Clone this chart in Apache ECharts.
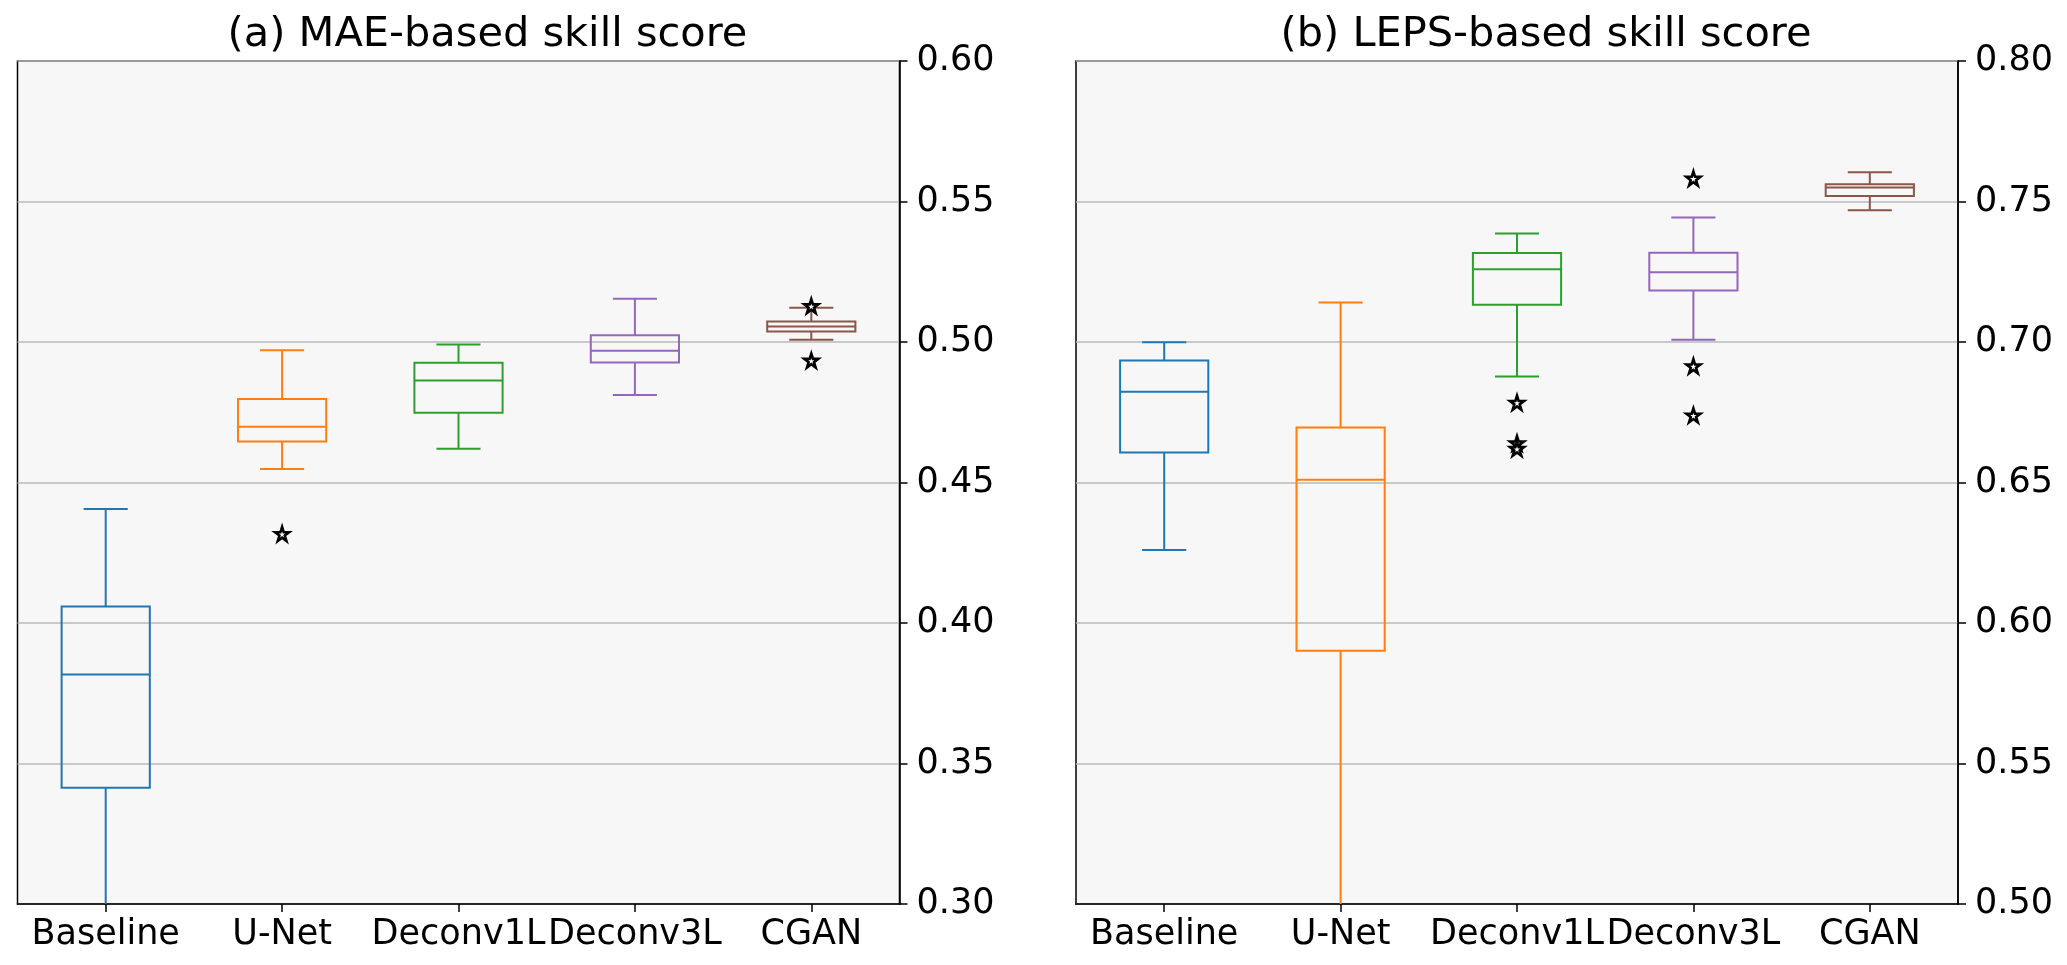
<!DOCTYPE html>
<html>
<head>
<meta charset="utf-8">
<script src="https://cdn.jsdelivr.net/npm/echarts@6/dist/echarts.min.js"></script>
<style>
html,body{margin:0;padding:0;background:#fff;}
#chart{width:2067px;height:965px;}
</style>
</head>
<body>
<div id="chart"></div>
<script>
// ---- data ----
const categories = ['Baseline', 'U-Net', 'Deconv1L', 'Deconv3L', 'CGAN'];
const yTicksMAE = [0.30, 0.35, 0.40, 0.45, 0.50, 0.55, 0.60];
const yTicksLEPS = [0.50, 0.55, 0.60, 0.65, 0.70, 0.75, 0.80];

// (a) MAE-based skill score
const maeLow  = [0.290, 0.4548, 0.4620, 0.4811, 0.5008];
const maeQ1   = [0.3414, 0.4646, 0.4748, 0.4927, 0.5037];
const maeMed  = [0.3817, 0.4698, 0.4863, 0.4969, 0.5055];
const maeQ3   = [0.4059, 0.4797, 0.4926, 0.5024, 0.5073];
const maeHigh = [0.4406, 0.4971, 0.4991, 0.5154, 0.5122];
const maeOutliers = [[1, 0.4317], [4, 0.5128], [4, 0.4934]];

// (b) LEPS-based skill score
const lepsLow  = [0.6260, 0.4800, 0.6877, 0.7008, 0.7469];
const lepsQ1   = [0.6607, 0.5901, 0.7133, 0.7183, 0.7520];
const lepsMed  = [0.6823, 0.6510, 0.7259, 0.7248, 0.7550];
const lepsQ3   = [0.6934, 0.6696, 0.7317, 0.7318, 0.7561];
const lepsHigh = [0.6999, 0.7141, 0.7386, 0.7443, 0.7604];
const lepsOutliers = [[2, 0.6784], [2, 0.6640], [2, 0.6620], [3, 0.7582], [3, 0.6914], [3, 0.6739]];

const titles = ['(a) MAE-based skill score', '(b) LEPS-based skill score'];
const colors = ['#1f77b4', '#ff7f0e', '#2ca02c', '#9467bd', '#8c564b'];

// ---- helpers ----
const FONT = 'DejaVu Sans';
const starPath = 'path://M0,-100 L22.45,-30.9 L95.1,-30.9 L36.3,11.8 L58.8,80.9 L0,38.2 L-58.8,80.9 L-36.3,11.8 L-95.1,-30.9 L-22.45,-30.9 Z';

function boxData(low, q1, med, q3, high) {
  return categories.map((c, i) => [i, low[i], q1[i], med[i], q3[i], high[i]]);
}

function renderBox(params, api) {
  const idx = api.value(0);
  const low = api.coord([idx, api.value(1)]);
  const q1 = api.coord([idx, api.value(2)]);
  const med = api.coord([idx, api.value(3)]);
  const q3 = api.coord([idx, api.value(4)]);
  const high = api.coord([idx, api.value(5)]);
  const band = api.size([1, 0])[0];
  const bw = band * 0.5, cw = band * 0.25;
  const x = low[0];
  const st = { stroke: colors[idx], lineWidth: 2, fill: null };
  return {
    type: 'group',
    children: [
      { type: 'rect', shape: { x: x - bw / 2, y: q3[1], width: bw, height: q1[1] - q3[1] }, style: st },
      { type: 'line', shape: { x1: x - bw / 2, y1: med[1], x2: x + bw / 2, y2: med[1] }, style: st },
      { type: 'line', shape: { x1: x, y1: q1[1], x2: x, y2: low[1] }, style: st },
      { type: 'line', shape: { x1: x, y1: q3[1], x2: x, y2: high[1] }, style: st },
      { type: 'line', shape: { x1: x - cw / 2, y1: low[1], x2: x + cw / 2, y2: low[1] }, style: st },
      { type: 'line', shape: { x1: x - cw / 2, y1: high[1], x2: x + cw / 2, y2: high[1] }, style: st }
    ]
  };
}

const gridW = 882, gridH = 843, gridTop = 61;
const gridLefts = [17.5, 1076];

function xAxisFor(g) {
  return {
    type: 'category', gridIndex: g, data: categories, boundaryGap: true,
    axisLine: { show: true, lineStyle: { color: '#000', width: 1.5 } },
    axisTick: { show: true, alignWithLabel: true, length: 8, lineStyle: { color: '#000', width: 1.5 } },
    axisLabel: { interval: 0, fontSize: 35, fontFamily: FONT, color: '#000', margin: 13 },
    splitLine: { show: false }
  };
}
function yAxisFor(g, ticks) {
  return {
    type: 'value', gridIndex: g, position: 'right',
    min: ticks[0], max: ticks[ticks.length - 1], interval: 0.05,
    axisLine: { show: true, lineStyle: { color: '#000', width: 1.5 } },
    axisTick: { show: true, length: 8, lineStyle: { color: '#000', width: 1.5 } },
    axisLabel: { fontSize: 35, fontFamily: FONT, color: '#000', margin: 17, formatter: v => v.toFixed(2) },
    splitLine: { show: true, lineStyle: { color: '#bababa', width: 1.5 } }
  };
}

const option = {
  animation: false,
  backgroundColor: '#ffffff',
  title: titles.map((t, i) => ({
    text: t,
    left: gridLefts[i] + gridW / 2 + 24,
    textAlign: 'center',
    top: 9,
    textStyle: { fontSize: 41.5, fontWeight: 'normal', fontFamily: FONT, color: '#000' }
  })),
  grid: gridLefts.map(l => ({
    left: l, top: gridTop, width: gridW, height: gridH,
    show: true, backgroundColor: '#f7f7f7', borderColor: '#000', borderWidth: 1.5
  })),
  xAxis: [xAxisFor(0), xAxisFor(1)],
  yAxis: [yAxisFor(0, yTicksMAE), yAxisFor(1, yTicksLEPS)],
  series: [
    {
      type: 'custom', xAxisIndex: 0, yAxisIndex: 0, clip: true,
      renderItem: renderBox, data: boxData(maeLow, maeQ1, maeMed, maeQ3, maeHigh), z: 3
    },
    {
      type: 'custom', xAxisIndex: 1, yAxisIndex: 1, clip: true,
      renderItem: renderBox, data: boxData(lepsLow, lepsQ1, lepsMed, lepsQ3, lepsHigh), z: 3
    },
    {
      type: 'scatter', xAxisIndex: 0, yAxisIndex: 0, data: maeOutliers,
      symbol: starPath, symbolSize: 14, z: 4,
      itemStyle: { color: '#ffffff', borderColor: '#000', borderWidth: 2.6, opacity: 1 }
    },
    {
      type: 'scatter', xAxisIndex: 1, yAxisIndex: 1, data: lepsOutliers,
      symbol: starPath, symbolSize: 14, z: 4,
      itemStyle: { color: '#ffffff', borderColor: '#000', borderWidth: 2.6, opacity: 1 }
    }
  ]
};

const chart = echarts.init(document.getElementById('chart'), null, { renderer: 'canvas' });
chart.setOption(option);
</script>
</body>
</html>
